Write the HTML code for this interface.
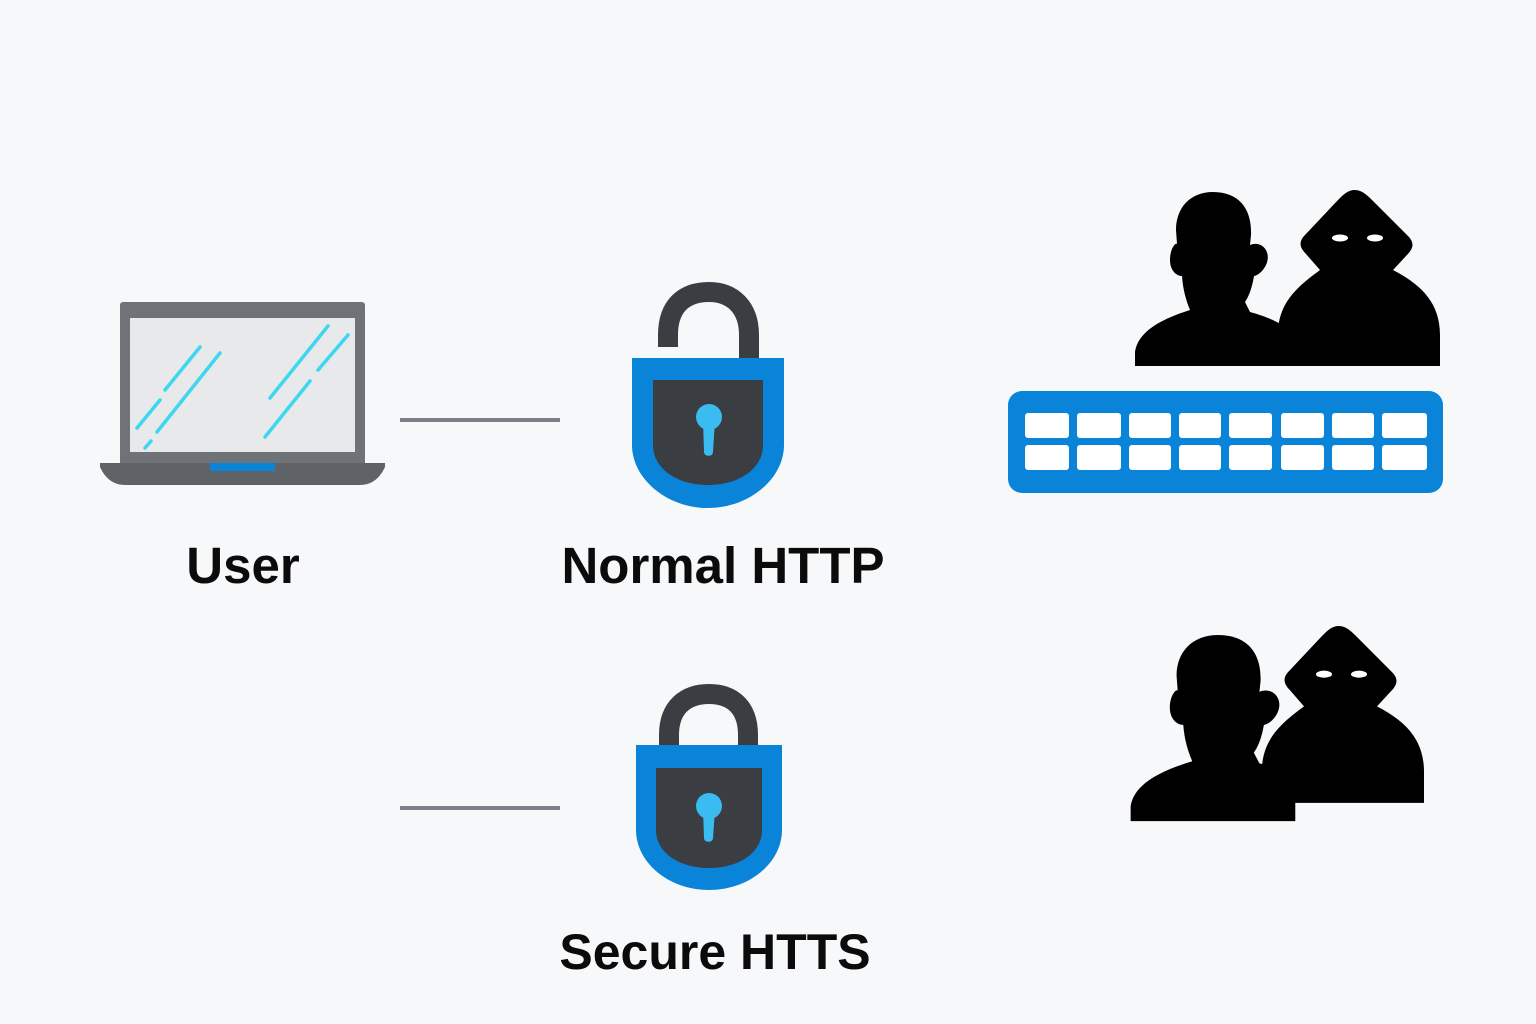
<!DOCTYPE html>
<html><head><meta charset="utf-8"><style>
html,body{margin:0;padding:0;background:#f7f8fa;}
svg{display:block}
text{font-family:"Liberation Sans",sans-serif;fill:#0b0b0b}
</style></head><body>
<svg width="1536" height="1024" viewBox="0 0 1536 1024" xmlns="http://www.w3.org/2000/svg">
<rect width="1536" height="1024" fill="#f7f8fa"/>
<defs>
<g id="man">
<path d="M1213,192 C1240,192 1252,210 1251,235 L1250,245 C1262,240 1272,252 1266,265 C1262,273 1256,276 1254,276 C1252,288 1249,296 1245,302 L1250,312 C1265,316 1278,322 1282,325 L1282,366 L1135,366 L1135,352 C1138,330 1165,318 1190,310 C1186,300 1183,290 1182,276 C1176,276 1170,270 1170,260 C1170,248 1176,242 1177,244 L1176,230 C1176,208 1190,192 1213,192 Z" fill="#000"/>
</g>
<g id="hood">
<path d="M1355,190 C1362,190 1368,196 1372,200 L1408,236 C1416,244 1412,250 1406,256 L1393,270 C1420,284 1440,302 1440,335 L1440,366 L1278,366 L1278,330 C1280,300 1300,285 1320,270 L1306,254 C1300,248 1298,242 1305,235 L1338,200 C1344,194 1348,190 1355,190 Z" fill="#000"/>
<ellipse cx="1340" cy="238" rx="8" ry="3.5" fill="#fff"/>
<ellipse cx="1375" cy="238" rx="8" ry="3.5" fill="#fff"/>
</g>
</defs>

<!-- Laptop -->
<rect x="120" y="302" width="245" height="163" rx="3" fill="#6f7377"/>
<rect x="130" y="318" width="225" height="134" fill="#e8e9ea"/>
<g stroke="#3fd6f2" stroke-width="3.5" stroke-linecap="round">
<line x1="165" y1="390" x2="200" y2="347"/>
<line x1="137" y1="428" x2="160" y2="400"/>
<line x1="157" y1="432" x2="220" y2="353"/>
<line x1="145" y1="448" x2="151" y2="441"/>
<line x1="270" y1="398" x2="328" y2="326"/>
<line x1="318" y1="370" x2="348" y2="335"/>
<line x1="265" y1="437" x2="310" y2="381"/>
</g>
<path d="M100,463 L385,463 L385,467 C380,478 372,485 360,485 L125,485 C113,485 105,478 100,467 Z" fill="#5f6266"/>
<rect x="210" y="463" width="65" height="8" fill="#0a84d8"/>

<!-- connector lines -->
<line x1="400" y1="420" x2="560" y2="420" stroke="#7a8088" stroke-width="4"/>
<line x1="400" y1="808" x2="560" y2="808" stroke="#7a8088" stroke-width="4"/>

<!-- Lock 1 open -->
<path d="M668,347 L668,335 C668,305 685,292 709,292 C733,292 749,308 749,335 L749,358" fill="none" stroke="#3a3d42" stroke-width="20"/>
<path d="M632,358 L784,358 L784,445 C784,478 750,508 708,508 C666,508 632,478 632,445 Z" fill="#0a84d8"/>
<path d="M653,380 L763,380 L763,445 C763,468 740,485 708,485 C676,485 653,468 653,445 Z" fill="#3a3d42"/>
<circle cx="709" cy="417" r="13" fill="#3bbcf0"/>
<path d="M703,420 L715,420 L713,452 C713,457 704,457 704,452 Z" fill="#3bbcf0"/>

<!-- Lock 2 closed -->
<path d="M669,745 L669,735 C669,707 686,694 709,694 C732,694 748,707 748,735 L748,745" fill="none" stroke="#3a3d42" stroke-width="20"/>
<path d="M636,745 L782,745 L782,830 C782,862 750,890 709,890 C668,890 636,862 636,830 Z" fill="#0a84d8"/>
<path d="M656,768 L762,768 L762,830 C762,852 740,868 709,868 C678,868 656,852 656,830 Z" fill="#3a3d42"/>
<circle cx="709" cy="806" r="13" fill="#3bbcf0"/>
<path d="M703,809 L715,809 L713,838 C713,843 704,843 704,838 Z" fill="#3bbcf0"/>

<!-- Labels -->
<text x="243" y="583" font-size="51" font-weight="bold" text-anchor="middle">User</text>
<text x="723" y="583" font-size="51" font-weight="bold" text-anchor="middle">Normal HTTP</text>
<text x="715" y="969" font-size="50" font-weight="bold" text-anchor="middle">Secure HTTS</text>

<!-- group 1 -->
<use href="#man"/>
<use href="#hood"/>
<rect x="1008" y="391" width="435" height="102" rx="14" fill="#0a84d8"/>
<g fill="#fff">
<rect x="1025" y="413" width="44" height="25" rx="3"/><rect x="1077" y="413" width="44" height="25" rx="3"/><rect x="1129" y="413" width="42" height="25" rx="3"/><rect x="1179" y="413" width="42" height="25" rx="3"/><rect x="1229" y="413" width="43" height="25" rx="3"/><rect x="1281" y="413" width="43" height="25" rx="3"/><rect x="1332" y="413" width="42" height="25" rx="3"/><rect x="1382" y="413" width="45" height="25" rx="3"/>
<rect x="1025" y="445" width="44" height="25" rx="3"/><rect x="1077" y="445" width="44" height="25" rx="3"/><rect x="1129" y="445" width="42" height="25" rx="3"/><rect x="1179" y="445" width="42" height="25" rx="3"/><rect x="1229" y="445" width="43" height="25" rx="3"/><rect x="1281" y="445" width="43" height="25" rx="3"/><rect x="1332" y="445" width="42" height="25" rx="3"/><rect x="1382" y="445" width="45" height="25" rx="3"/>
</g>

<!-- group 2 -->
<use href="#hood" transform="translate(-16,435) scale(1,1.005)"/>
<g transform="translate(1218,635) scale(1.12,1.07) translate(-1213,-192)">
<use href="#man"/>
</g>
</svg>
</body></html>
